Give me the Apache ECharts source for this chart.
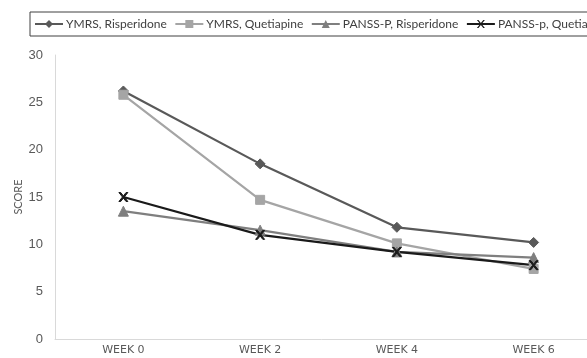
<!DOCTYPE html>
<html><head><meta charset="utf-8">
<script src="https://cdn.jsdelivr.net/npm/echarts@6/dist/echarts.min.js"></script>
<style>html,body{margin:0;padding:0;background:#fff}#c{width:587px;height:358px}</style>
</head><body><div id="c"></div>
<script>
const categories = ['WEEK 0', 'WEEK 2', 'WEEK 4', 'WEEK 6'];
const ymrsRisperidone = [26.2, 18.5, 11.8, 10.2];
const ymrsQuetiapine = [25.8, 14.7, 10.1, 7.4];
const panssRisperidone = [13.5, 11.5, 9.2, 8.6];
const panssQuetiapine = [15.0, 11.0, 9.2, 7.8];
const seriesNames = ['YMRS, Risperidone', 'YMRS, Quetiapine', 'PANSS-P, Risperidone', 'PANSS-p, Quetiapine'];

const chart = echarts.init(document.getElementById('c'), null, {renderer: 'canvas'});
function mk(name, data, color, symbol, size) {
  return {
    name, type: 'line', data, symbol, symbolSize: size,
    lineStyle: {color, width: 2.2},
    itemStyle: {color, borderColor: color},
    emphasis: {disabled: true}, z: 2
  };
}
const xSym = 'path://M0,0 L2,0 L5,3 L8,0 L10,0 L6,4 L6,4 L10,8 L8,8 L5,5 L2,8 L0,8 L4,4 Z';
chart.setOption({
  animation: false,
  legend: {
    left: 30, top: 12, width: 700,
    orient: 'horizontal',
    borderColor: '#404040', borderWidth: 1,
    padding: [6, 60, 6, 4],
    itemWidth: 28, itemHeight: 10, itemGap: 7.5,
    textStyle: {fontFamily: 'Lato', fontSize: 12, color: '#404040', padding: [0, 0, 0, -2]},
    data: seriesNames
  },
  grid: {left: 55, width: 547, top: 55, bottom: 19, containLabel: false, outerBoundsMode: 'none'},
  xAxis: {
    type: 'category', data: categories, boundaryGap: true,
    axisLine: {lineStyle: {color: '#d9d9d9', width: 1}},
    axisTick: {show: false},
    axisLabel: {color: '#595959', fontFamily: 'DejaVu Sans', fontSize: 11, margin: 6}
  },
  yAxis: {
    type: 'value', min: 0, max: 30, interval: 5,
    name: 'SCORE', nameLocation: 'middle', nameGap: 31, nameRotate: 90, nameMoveOverlap: false,
    nameTextStyle: {color: '#595959', fontFamily: 'Lato', fontSize: 11},
    axisLine: {show: true, lineStyle: {color: '#d9d9d9', width: 1}},
    axisTick: {show: false},
    splitLine: {show: false},
    axisLabel: {color: '#595959', fontFamily: 'Liberation Sans', fontSize: 13, margin: 12}
  },
  series: [
    mk(seriesNames[0], ymrsRisperidone, '#595959', 'diamond', 10),
    mk(seriesNames[1], ymrsQuetiapine, '#a5a5a5', 'rect', 9),
    mk(seriesNames[2], panssRisperidone, '#7f7f7f', 'triangle', 10),
    mk(seriesNames[3], panssQuetiapine, '#1a1a1a', xSym, 9)
  ]
});
</script></body></html>
